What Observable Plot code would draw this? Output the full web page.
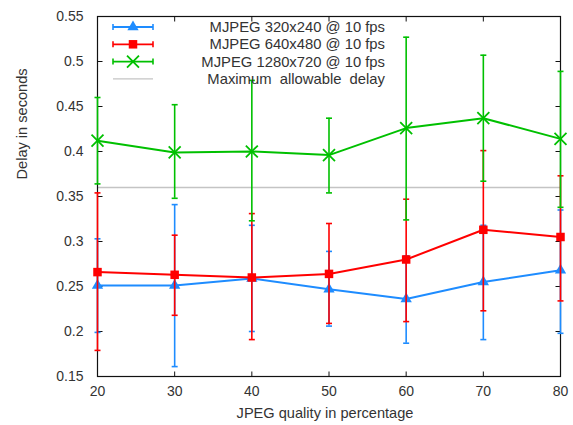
<!DOCTYPE html>
<html>
<head>
<meta charset="utf-8">
<script src="https://cdn.jsdelivr.net/npm/d3@7"></script>
<script src="https://cdn.jsdelivr.net/npm/@observablehq/plot@0.6"></script>
<style>
  body { margin: 0; background: #fff; }
  #chart { position: relative; width: 573px; height: 425px; font-family: "Liberation Sans", Arial, sans-serif; }
  #chart svg { position: absolute; left: 0; top: 0; }
</style>
</head>
<body>
<div id="chart"></div>
<script>
// JPEG quality (%) on the x axis
const quality = [20, 30, 40, 50, 60, 70, 80];

const seriesNames = ["MJPEG 320x240 @ 10 fps", "MJPEG 640x480 @ 10 fps", "MJPEG 1280x720 @ 10 fps"];
const seriesColors = ["#1e8cff", "#ff0000", "#00c000"];

// mean delay (s) and min / max spread for each resolution
const delay320 = [0.251, 0.251, 0.259, 0.247, 0.236, 0.255, 0.268];
const low320   = [0.199, 0.161, 0.200, 0.206, 0.187, 0.191, 0.198];
const high320  = [0.303, 0.341, 0.318, 0.289, 0.284, 0.318, 0.335];

const delay640 = [0.266, 0.263, 0.260, 0.264, 0.280, 0.313, 0.305];
const low640   = [0.179, 0.218, 0.191, 0.209, 0.211, 0.223, 0.234];
const high640  = [0.354, 0.307, 0.331, 0.320, 0.347, 0.401, 0.373];

const delay1280 = [0.412, 0.399, 0.400, 0.396, 0.426, 0.437, 0.414];
const low1280   = [0.364, 0.348, 0.323, 0.354, 0.324, 0.367, 0.338];
const high1280  = [0.460, 0.452, 0.479, 0.437, 0.527, 0.507, 0.489];

const maxDelay = 0.36;
const maxDelayLabel = "Maximum  allowable  delay";

const yTicks = [0.15, 0.2, 0.25, 0.3, 0.35, 0.4, 0.45, 0.5, 0.55];
const xTicks = [20, 30, 40, 50, 60, 70, 80];

const xLabel = "JPEG quality in percentage";
const yLabel = "Delay in seconds";

// ---- build tidy rows ----
const seriesData = [
  {delay: delay320, low: low320, high: high320, symbol: "triangle", r: 4.2, fill: true},
  {delay: delay640, low: low640, high: high640, symbol: "square", r: 4.8, fill: true},
  {delay: delay1280, low: low1280, high: high1280, symbol: "times", r: 5.5, fill: false}
];
const rows = seriesData.map((s, i) =>
  quality.map((q, j) => ({series: seriesNames[i], q, delay: s.delay[j], low: s.low[j], high: s.high[j]}))
);

// small path symbols: error-bar caps and inward axis ticks
const cap = {draw(ctx) { ctx.moveTo(-3, 0); ctx.lineTo(3, 0); }};
const tickLeft = {draw(ctx) { ctx.moveTo(0, 0); ctx.lineTo(5, 0); }};
const tickRight = {draw(ctx) { ctx.moveTo(0, 0); ctx.lineTo(-5, 0); }};
const tickBottom = {draw(ctx) { ctx.moveTo(0, 0); ctx.lineTo(0, -5); }};
const tickTop = {draw(ctx) { ctx.moveTo(0, 0); ctx.lineTo(0, 5); }};

const [xMin, xMax] = d3.extent(xTicks);
const [yMin, yMax] = d3.extent(yTicks);

const marks = [
  Plot.ruleY([maxDelay], {stroke: "#c4c4c4", strokeWidth: 1.5}),
  Plot.frame({stroke: "#111", strokeWidth: 1.2}),
  Plot.dot(yTicks, {x: xMin, y: d => d, symbol: tickLeft, stroke: "#111", fill: "none", strokeWidth: 1}),
  Plot.dot(yTicks, {x: xMax, y: d => d, symbol: tickRight, stroke: "#111", fill: "none", strokeWidth: 1}),
  Plot.dot(xTicks, {x: d => d, y: yMin, symbol: tickBottom, stroke: "#111", fill: "none", strokeWidth: 1}),
  Plot.dot(xTicks, {x: d => d, y: yMax, symbol: tickTop, stroke: "#111", fill: "none", strokeWidth: 1}),
  Plot.axisY(yTicks, {tickSize: 0, tickPadding: 14, tickFormat: d => String(+d.toFixed(2)), fontSize: 14}),
  Plot.axisX(xTicks, {tickSize: 0, tickPadding: 10, tickFormat: d => String(d), fontSize: 14}),
  Plot.text([yLabel], {text: d => d, frameAnchor: "left", rotate: -90, dx: -75, dy: -17, fontSize: 14.6}),
  Plot.text([xLabel], {text: d => d, frameAnchor: "bottom", dy: 41, dx: -4, fontSize: 14.6})
];

seriesData.forEach((s, i) => {
  const color = seriesColors[i];
  const data = rows[i];
  marks.push(
    Plot.ruleX(data, {x: "q", y1: "low", y2: "high", stroke: color, strokeWidth: 1.6}),
    Plot.dot(data, {x: "q", y: "low", symbol: cap, stroke: color, fill: "none", strokeWidth: 1.6}),
    Plot.dot(data, {x: "q", y: "high", symbol: cap, stroke: color, fill: "none", strokeWidth: 1.6}),
    Plot.line(data, {x: "q", y: "delay", stroke: color, strokeWidth: 2}),
    s.fill
      ? Plot.dot(data, {x: "q", y: "delay", symbol: s.symbol, r: s.r, fill: color, stroke: "none"})
      : Plot.dot(data, {x: "q", y: "delay", symbol: s.symbol, r: s.r, fill: "none", stroke: color, strokeWidth: 1.8})
  );
});

const chart = Plot.plot({
  width: 573,
  height: 425,
  marginLeft: 97,
  marginRight: 13,
  marginTop: 16,
  marginBottom: 49,
  style: {fontFamily: "'Liberation Sans', Arial, sans-serif", fontSize: "14px", color: "#333", background: "#fff"},
  x: {domain: [xMin, xMax], label: null},
  y: {domain: [yMin, yMax], label: null},
  marks
});
const root = document.getElementById("chart");
root.appendChild(chart);

// ---- key, drawn inside the plot's upper-left corner ----
const legend = d3.select(root).append("svg")
  .attr("width", 573).attr("height", 425)
  .style("pointer-events", "none")
  .style("font-family", "'Liberation Sans', Arial, sans-serif")
  .style("font-size", "14.8px");

const keyRows = seriesNames.map((name, i) => ({name, color: seriesColors[i], s: seriesData[i]}))
  .concat([{name: maxDelayLabel, color: "#c4c4c4", s: null}]);
const keyTop = 27, keyStep = 17.3, sampleX0 = 113, sampleX1 = 153, textRight = 385;

keyRows.forEach((k, i) => {
  const y = keyTop + i * keyStep;
  const g = legend.append("g").attr("transform", `translate(0,${y})`);
  g.append("line").attr("x1", sampleX0).attr("x2", sampleX1)
    .attr("stroke", k.color).attr("stroke-width", k.s ? 1.8 : 1.3);
  if (k.s) {
    [sampleX0, sampleX1].forEach(x => g.append("line")
      .attr("x1", x).attr("x2", x).attr("y1", -3).attr("y2", 3)
      .attr("stroke", k.color).attr("stroke-width", 1.6));
    const type = {triangle: d3.symbolTriangle, square: d3.symbolSquare, times: d3.symbolTimes}[k.s.symbol];
    g.append("path")
      .attr("transform", `translate(${(sampleX0 + sampleX1) / 2},0)`)
      .attr("d", d3.symbol(type, Math.PI * k.s.r * k.s.r)())
      .attr("fill", k.s.fill ? k.color : "none")
      .attr("stroke", k.s.fill ? "none" : k.color)
      .attr("stroke-width", 1.8);
  }
  g.append("text").attr("x", textRight).attr("dy", "0.35em")
    .attr("text-anchor", "end").attr("fill", "#333")
    .style("white-space", "pre")
    .text(k.name);
});
</script>
</body>
</html>
